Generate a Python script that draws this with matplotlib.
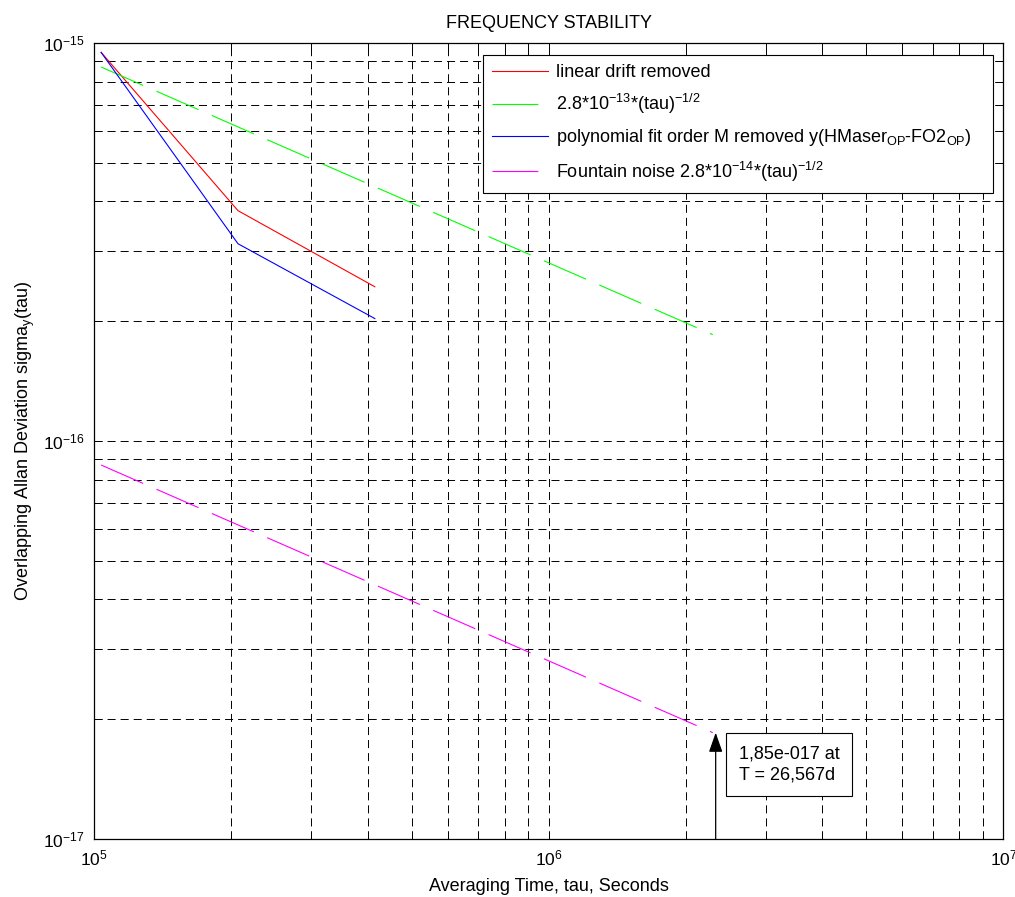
import numpy as np
import matplotlib
matplotlib.use('Agg')
import matplotlib.pyplot as plt
from matplotlib.ticker import LogLocator, NullFormatter

plt.rcParams['font.family'] = ['Liberation Sans', 'DejaVu Sans']
plt.rcParams['mathtext.fontset'] = 'custom'
plt.rcParams['mathtext.rm'] = 'Liberation Sans'
plt.rcParams['mathtext.it'] = 'Liberation Sans:italic'
plt.rcParams['mathtext.bf'] = 'Liberation Sans:bold'
plt.rcParams['axes.unicode_minus'] = False
plt.rcParams['lines.scale_dashes'] = False

# data (tau in seconds, sigma_y)
tau_meas = [103680, 207360, 414720]
sigma_linear = [9.47e-16, 3.79e-16, 2.44e-16]
sigma_poly = [9.47e-16, 3.13e-16, 2.03e-16]

tau_ref = [103680, 2295400]
sigma_maser = [8.70e-16, 1.85e-16]
sigma_fountain = [8.70e-17, 1.85e-17]

arrow_tau = 2.33e6
note_text = '1,85e-017 at\nT = 26,567d'

labels = ['linear drift removed',
          r'2.8*10$\mathregular{^{-13}}$*(tau)$\mathregular{^{-1/2}}$',
          r'polynomial fit order M removed y(HMaser$\mathregular{_{OP}}$-FO2$\mathregular{_{OP}}$)',
          r'Fountain noise 2.8*10$\mathregular{^{-14}}$*(tau)$\mathregular{^{-1/2}}$']

fig = plt.figure(figsize=(10.15, 8.97), dpi=100)
ax = fig.add_axes([0.0926, 0.0647, 0.8959, 0.8874])

long_dash = (0, (33, 10.5))
ax.plot(tau_meas, sigma_linear, color='#ff0000', lw=0.8, label=labels[0], zorder=3)
ax.plot(tau_ref, sigma_maser, color='#00ff00', lw=0.8, linestyle=long_dash, label=labels[1], zorder=3)
ax.plot(tau_meas, sigma_poly, color='#0000ff', lw=0.8, label=labels[2], zorder=3)
ax.plot(tau_ref, sigma_fountain, color='#ff00ff', lw=0.8, linestyle=long_dash, label=labels[3], zorder=3)

ax.set_xscale('log')
ax.set_yscale('log')
ax.set_xlim(1e5, 1e7)
ax.set_ylim(1e-17, 1e-15)
for axis in (ax.xaxis, ax.yaxis):
    axis.set_major_locator(LogLocator(base=10))
    axis.set_minor_locator(LogLocator(base=10, subs=np.arange(2, 10)))
    axis.set_minor_formatter(NullFormatter())

ax.grid(True, which='both', color='black', linestyle=(0, (5.8, 3.6)), lw=0.7)
ax.set_axisbelow(True)
ax.tick_params(which='both', direction='in', top=True, right=True, length=6,
               width=0.7, labelsize=12.5, pad=7)
for sp in ax.spines.values():
    sp.set_linewidth(0.9)

ax.set_title('FREQUENCY STABILITY', fontsize=13, pad=11)
ax.set_xlabel('Averaging Time, tau, Seconds', fontsize=13, labelpad=7)
ax.set_ylabel(r'Overlapping Allan Deviation sigma$\mathregular{_y}$(tau)', fontsize=13, labelpad=4)

leg = ax.legend(loc='upper left', bbox_to_anchor=(0.4278, 0.818, 0.5609, 0.167),
                mode='expand', fontsize=13, frameon=True, fancybox=False,
                framealpha=1, edgecolor='black', handlelength=3.1,
                handletextpad=0.45, borderpad=0.5, labelspacing=0.62,
                borderaxespad=0)
leg.get_frame().set_linewidth(0.8)
leg.set_zorder(5)

# arrow + note box near the end of the fountain line
ax.annotate('', xy=(arrow_tau, sigma_fountain[-1]), xytext=(arrow_tau, 1e-17),
            arrowprops=dict(arrowstyle='-|>,head_length=1.0,head_width=0.35',
                            mutation_scale=12, color='black', lw=0.9,
                            shrinkA=0, shrinkB=0), zorder=4)
ax.text(2.623e6, 1.539e-17, note_text, fontsize=13, ha='left', va='center',
        linespacing=1.35, zorder=4,
        bbox=dict(boxstyle='square,pad=0.7', facecolor='white',
                  edgecolor='black', lw=0.8))

fig.savefig('out.png', dpi=100)
